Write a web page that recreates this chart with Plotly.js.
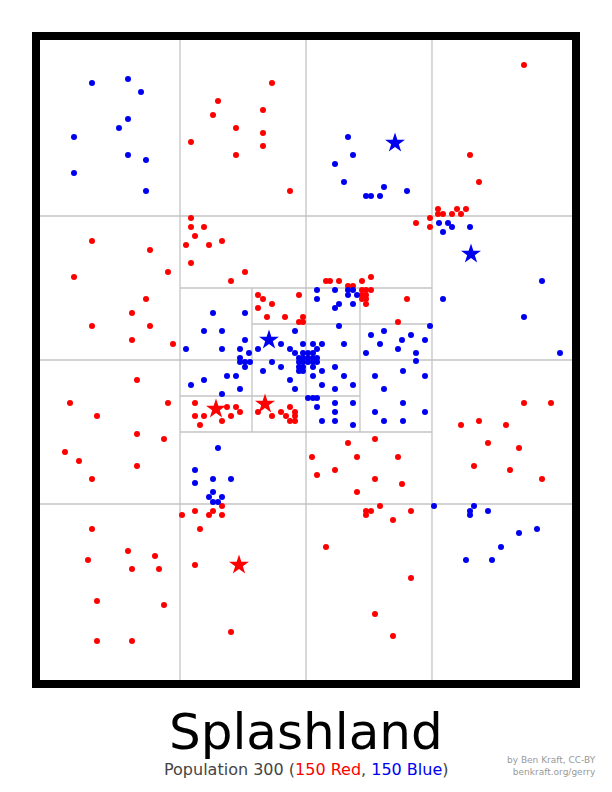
<!DOCTYPE html>
<html>
<head>
<meta charset="utf-8">
<script src="https://cdn.plot.ly/plotly-3.0.1.min.js"></script>
<style>html,body{margin:0;padding:0;background:#fff;}#chart{width:612px;height:792px;}</style>
</head>
<body>
<div id="chart"></div>
<script>
// Map coordinates (x to the right, y downward)
const blueX = [92,128,141,128,119,74,128,146,74,146,
  348,353,335,344,384,366,371,380,
  407,
  213,204,186,222,222,
  317,317,335,348,353,348,357,339,335,353,339,245,245,240,249,240,258,281,290,295,295,303,313,317,322,344,303,308,313,299,303,308,313,317,371,384,380,366,398,402,
  439,448,452,443,470,542,443,524,430,411,425,416,416,560,
  191,204,222,218,195,213,195,213,209,213,218,222,
  240,245,250,245,272,281,263,227,236,240,290,295,299,303,308,313,317,299,303,313,299,303,313,322,322,335,344,335,353,308,313,317,317,322,335,335,335,353,353,375,384,375,384,231,
  403,425,403,425,403,434,474,470,470,488,
  537,519,501,466,492];
const blueY = [83,79,92,119,128,137,155,160,173,191,
  137,155,164,182,187,196,196,196,
  191,
  313,331,349,331,349,
  290,299,290,290,290,295,295,304,308,304,326,313,340,349,353,358,349,344,349,331,353,344,344,349,344,344,353,353,353,358,358,358,358,358,335,331,344,353,349,340,
  223,223,227,232,227,281,299,317,326,335,340,353,361,353,
  385,380,394,448,470,479,483,492,497,502,502,497,
  362,362,362,367,362,367,371,376,376,389,380,389,362,362,362,362,362,367,367,367,371,371,376,371,385,367,376,389,385,398,398,398,407,421,403,412,421,403,425,376,389,412,421,479,
  371,376,403,412,421,506,506,511,515,511,
  529,533,547,560,560];

const redX = [218,213,191,
  272,263,236,263,263,236,290,
  524,470,479,
  92,150,74,168,146,132,92,150,132,173,191,191,204,195,186,209,222,191,
  245,231,326,330,339,348,353,362,371,362,366,371,362,366,362,366,366,258,263,272,258,299,267,285,303,299,303,398,
  438,457,466,438,443,452,461,430,416,430,407,
  137,70,168,97,137,164,65,79,92,137,195,195,204,200,222,182,195,209,213,222,222,
  227,236,240,231,258,272,281,286,290,295,295,290,295,
  312,348,375,357,398,317,335,375,357,402,366,371,380,366,393,
  524,551,461,479,506,488,519,474,510,542,411,
  92,128,155,88,132,159,97,164,97,132,200,195,
  231,326,375,393,
  411];
const redY = [101,115,142,
  83,110,128,133,146,155,191,
  65,155,182,
  241,250,277,272,299,313,326,326,340,344,218,227,227,236,245,245,241,263,
  272,281,281,281,281,286,286,281,277,290,290,290,295,295,299,299,304,295,299,304,308,295,317,317,317,322,322,322,
  209,209,209,214,214,214,214,218,223,227,299,
  380,403,403,416,434,439,452,461,479,466,403,416,416,425,421,515,511,515,511,506,515,
  407,407,412,416,412,416,412,416,407,412,416,421,421,
  457,443,439,457,457,475,470,479,492,484,511,511,506,515,520,
  403,403,425,421,425,443,448,466,470,479,511,
  529,551,556,560,569,569,601,605,641,641,529,565,
  632,547,614,636,
  578];

const blueStarX = [395,471,269];
const blueStarY = [143,254,340];
const redStarX = [216,265,239];
const redStarY = [409,404,565];

// District lines: [x0,y0,x1,y1]
const districtLines = [
  [180,40,180,680],[306,40,306,680],[432,40,432,680],
  [40,216,572,216],[40,360,572,360],[40,504,572,504],
  [180,288,432,288],[180,432,432,432],
  [252,288,252,432],[360,288,360,432],
  [252,324,432,324],[180,396,360,396]
];

const traces = [
  {x: redX, y: redY, type: 'scatter', mode: 'markers', marker: {color: '#ff0000', size: 6}, hoverinfo: 'skip'},
  {x: blueX, y: blueY, type: 'scatter', mode: 'markers', marker: {color: '#0000f0', size: 6}, hoverinfo: 'skip'},
  {x: redStarX, y: redStarY, type: 'scatter', mode: 'markers', marker: {color: '#ff0000', size: 15, symbol: 'star'}, hoverinfo: 'skip'},
  {x: blueStarX, y: blueStarY, type: 'scatter', mode: 'markers', marker: {color: '#0000f0', size: 15, symbol: 'star'}, hoverinfo: 'skip'}
];

const shapes = districtLines.map(l => ({
  type: 'line', xref: 'x', yref: 'y', x0: l[0], y0: l[1], x1: l[2], y1: l[3],
  line: {color: '#c4c4c4', width: 1.3}, layer: 'below'
}));
shapes.push({
  type: 'rect', xref: 'paper', yref: 'paper',
  x0: -4/532, x1: 1 + 4/532, y0: -4/640, y1: 1 + 4/640,
  line: {color: '#000', width: 8}, fillcolor: 'rgba(0,0,0,0)', layer: 'above'
});

const layout = {
  width: 612, height: 792,
  margin: {l: 40, r: 40, t: 40, b: 112, pad: 0},
  paper_bgcolor: '#fff', plot_bgcolor: '#fff',
  showlegend: false,
  xaxis: {range: [40, 572], showgrid: false, zeroline: false, showticklabels: false, ticks: '', showline: false, fixedrange: true},
  yaxis: {range: [680, 40], showgrid: false, zeroline: false, showticklabels: false, ticks: '', showline: false, fixedrange: true},
  shapes: shapes,
  annotations: [
    {xref: 'paper', yref: 'paper', x: 0.5, y: -52/640, xanchor: 'center', yanchor: 'middle', showarrow: false,
     text: 'Splashland', font: {family: 'DejaVu Sans', size: 50, color: '#000'}},
    {xref: 'paper', yref: 'paper', x: 0.5, y: -89/640, xanchor: 'center', yanchor: 'middle', showarrow: false,
     text: 'Population 300 (<span style="color:#ff0000">150 Red</span>, <span style="color:#0000f0">150 Blue</span>)',
     font: {family: 'DejaVu Sans', size: 16, color: '#444'}},
    {xref: 'paper', yref: 'paper', x: (598-40)/532, y: -86/640, xanchor: 'right', yanchor: 'middle', showarrow: false, align: 'right',
     text: 'by Ben Kraft, CC-BY<br>benkraft.org/gerry', font: {family: 'DejaVu Sans', size: 9, color: '#999'}}
  ]
};

Plotly.newPlot('chart', traces, layout, {staticPlot: true, displayModeBar: false});
</script>
</body>
</html>
